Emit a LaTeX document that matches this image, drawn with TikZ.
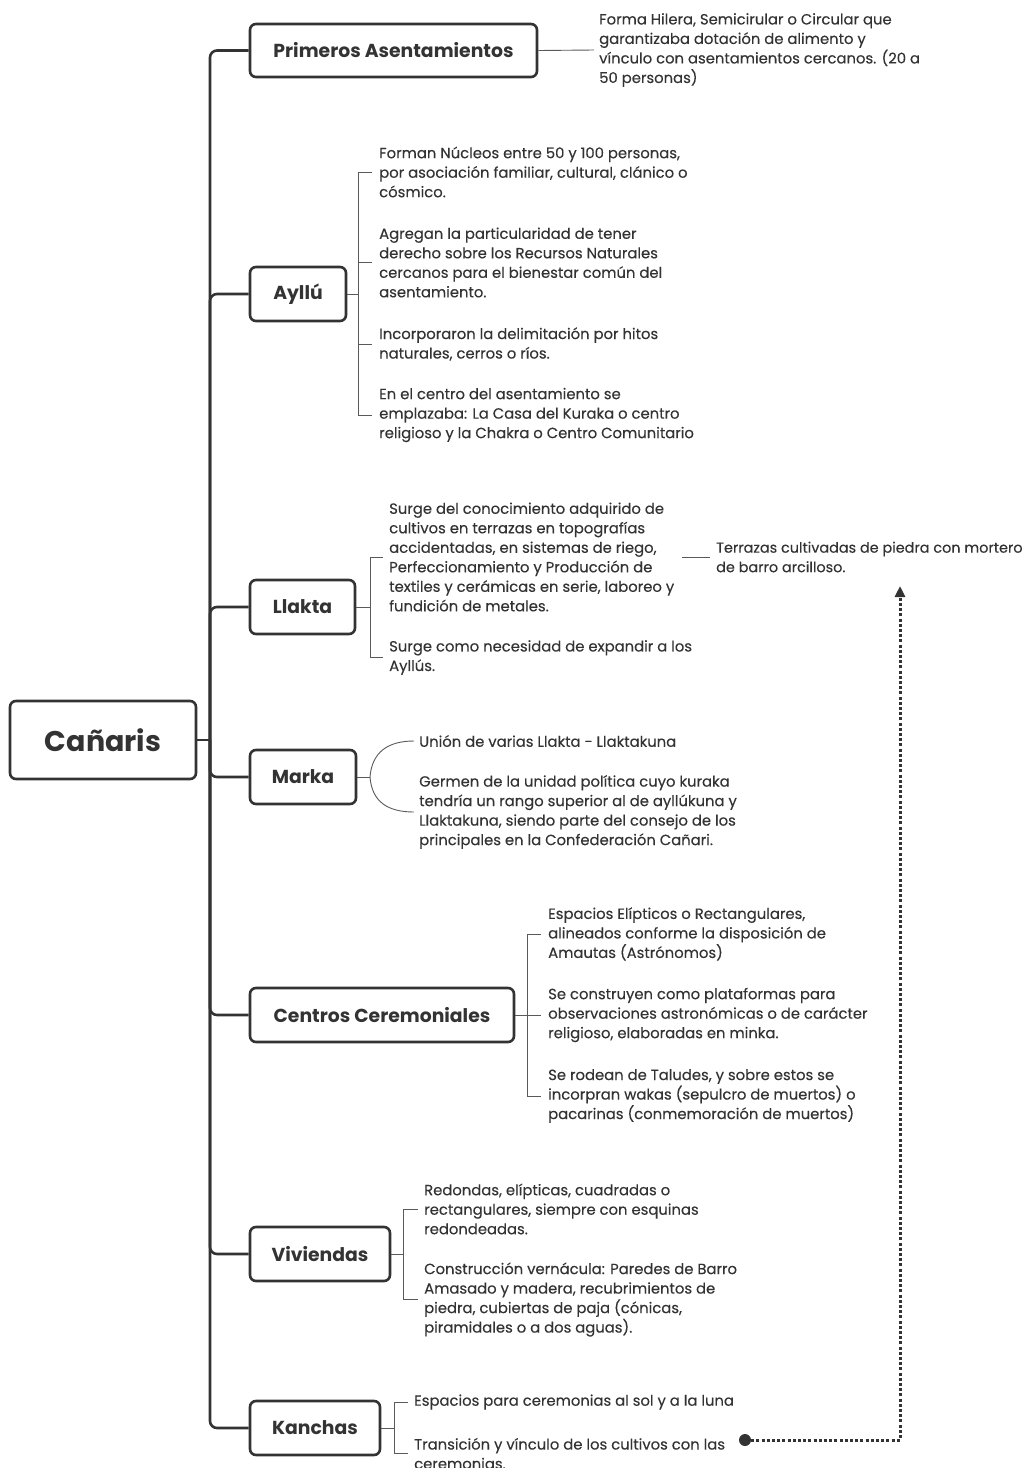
\documentclass[tikz,border=0pt]{standalone}
\usepackage{fontspec}
\setmainfont{Poppins}
\newfontfamily\bodyfont{Poppins}[FakeBold=0.25]
\usetikzlibrary{arrows.meta}
\definecolor{ink}{HTML}{333333}
\definecolor{lk}{HTML}{5A5A5A}
\tikzset{
  topic/.style={draw=ink, line width=2.6pt, rounded corners=6pt, fill=white, text=ink,
    font=\bfseries\fontsize{18.8}{22}\selectfont, minimum height=54pt, inner sep=0pt},
  root/.style={topic, font=\bfseries\fontsize{28.5}{34}\selectfont, minimum height=78pt, minimum width=186pt},
  leaf/.style={anchor=west, align=left, inner sep=0pt, text=ink, font=\bodyfont\fontsize{14.8}{19.5}\selectfont},
  trunk/.style={draw=ink, line width=2.6pt, rounded corners=7pt},
  lline/.style={draw=lk, line width=0.9pt},
  rel/.style={draw=ink, line width=3pt, dash pattern=on 3pt off 2.2pt},
}
\begin{document}
\begin{tikzpicture}[x=1pt,y=-1pt]
\useasboundingbox (0,0) rectangle (1028,1468);
% main topics
\node[root] (can) at (103,740) {Cañaris};
\node[topic, minimum width=287pt, minimum height=53pt] (prim) at (393.5,50.5) {Primeros Asentamientos};
\node[topic, minimum width=96pt] (ayl) at (298,294) {Ayllú};
\node[topic, minimum width=105pt] (lla) at (302.5,607) {Llakta};
\node[topic, minimum width=106pt] (mar) at (303,777) {Marka};
\node[topic, minimum width=264pt] (cen) at (382,1015) {Centros Ceremoniales};
\node[topic, minimum width=140pt] (viv) at (320,1254) {Viviendas};
\node[topic, minimum width=130pt] (kan) at (315,1428) {Kanchas};
% trunk
\coordinate (tr) at (210,740);
\draw[trunk] (can.east) -- (tr);
\foreach \n in {prim,ayl,lla,mar,cen,viv,kan}{
  \draw[trunk] (tr) -- (tr |- \n.west) -- (\n.west);
}
% leaves
\node[leaf] (p1) at (599,50) {Forma Hilera, Semicirular o Circular que\\garantizaba dotación de alimento y\\vínculo con asentamientos cercanos. (20 a\\50 personas)};
\node[leaf] (a1) at (379,172) {Forman Núcleos entre 50 y 100 personas,\\por asociación familiar, cultural, clánico o\\cósmico.};
\node[leaf] (a2) at (379,262.5) {Agregan la particularidad de tener\\derecho sobre los Recursos Naturales\\cercanos para el bienestar común del\\asentamiento.};
\node[leaf] (a3) at (379,344) {Incorporaron la delimitación por hitos\\naturales, cerros o ríos.};
\node[leaf] (a4) at (379,415) {En el centro del asentamiento se\\emplazaba: La Casa del Kuraka o centro\\religioso y la Chakra o Centro Comunitario};
\node[leaf] (l1) at (389,557) {Surge del conocimiento adquirido de\\cultivos en terrazas en topografías\\accidentadas, en sistemas de riego,\\Perfeccionamiento y Producción de\\textiles y cerámicas en serie, laboreo y\\fundición de metales.};
\node[leaf] (l2) at (389,657.5) {Surge como necesidad de expandir a los\\Ayllús.};
\node[leaf, font=\bodyfont\fontsize{14.4}{19.5}\selectfont] (t1) at (716,557) {Terrazas cultivadas de piedra con mortero\\de barro arcilloso.};
\node[leaf] (m1) at (419,741) {Unión de varias Llakta - Llaktakuna};
\node[leaf] (m2) at (419,812) {Germen de la unidad política cuyo kuraka\\tendría un rango superior al de ayllúkuna y\\Llaktakuna, siendo parte del consejo de los\\principales en la Confederación Cañari.};
\node[leaf] (c1) at (548,934) {Espacios Elípticos o Rectangulares,\\alineados conforme la disposición de\\Amautas (Astrónomos)};
\node[leaf] (c2) at (548,1015) {Se construyen como plataformas para\\observaciones astronómicas o de carácter\\religioso, elaboradas en minka.};
\node[leaf] (c3) at (548,1096) {Se rodean de Taludes, y sobre estos se\\incorpran wakas (sepulcro de muertos) o\\pacarinas (conmemoración de muertos)};
\node[leaf] (v1) at (424,1209) {Redondas, elípticas, cuadradas o\\rectangulares, siempre con esquinas\\redondeadas.};
\node[leaf] (v2) at (424,1299.5) {Construcción vernácula: Paredes de Barro\\Amasado y madera, recubrimientos de\\piedra, cubiertas de paja (cónicas,\\piramidales o a dos aguas).};
\node[leaf] (k1) at (414,1402) {Espacios para ceremonias al sol y a la luna};
\node[leaf] (k2) at (414,1453.5) {Transición y vínculo de los cultivos con las\\ceremonias.};
% leaf connectors
\draw[lline] (prim.east) -- ([xshift=-5]p1.west);
% Ayllu
\coordinate (va) at (358,0);
\draw[lline] (ayl.east) -- (ayl.east -| va);
\draw[lline] ([xshift=-7]a1.west) -- (a1.west -| va) -- (a4.west -| va) -- ([xshift=-7]a4.west);
\draw[lline] (a2.west -| va) -- ([xshift=-7]a2.west);
\draw[lline] (a3.west -| va) -- ([xshift=-7]a3.west);
% Llakta
\coordinate (vl) at (370,0);
\draw[lline] (lla.east) -- (lla.east -| vl);
\draw[lline] ([xshift=-6]l1.west) -- (l1.west -| vl) -- (l2.west -| vl) -- ([xshift=-6]l2.west);
\coordinate (tl) at (682,557);
\draw[lline] (tl) -- ([xshift=-6]t1.west);
% Marka
\coordinate (vm) at (370,777);
\draw[lline] (mar.east) -- (vm);
\draw[lline] (vm) .. controls (372,752) and (388,741) .. ([xshift=-5]m1.west);
\draw[lline] (vm) .. controls (372,802) and (388,812) .. ([xshift=-5]m2.west);
% Centros
\coordinate (vc) at (527,0);
\draw[lline] (cen.east) -- (cen.east -| vc);
\draw[lline] ([xshift=-7]c1.west) -- (c1.west -| vc) -- (c3.west -| vc) -- ([xshift=-7]c3.west);
\draw[lline] (c2.west -| vc) -- ([xshift=-7]c2.west);
% Viviendas
\coordinate (vv) at (403,0);
\draw[lline] (viv.east) -- (viv.east -| vv);
\draw[lline] ([xshift=-6]v1.west) -- (v1.west -| vv) -- (v2.west -| vv) -- ([xshift=-6]v2.west);
% Kanchas
\coordinate (vk) at (394,0);
\draw[lline] (kan.east) -- (kan.east -| vk);
\draw[lline] ([xshift=-6]k1.west) -- (k1.west -| vk) -- (k2.west -| vk) -- ([xshift=-6]k2.west);
% relationship
\node[circle, fill=ink, inner sep=0pt, minimum size=12pt] (dot) at (745,1440) {};
\coordinate (arr) at (900,586);
\draw[rel, -{Triangle[width=10pt,length=11pt]}] (dot) -| (arr);
\end{tikzpicture}
\end{document}
